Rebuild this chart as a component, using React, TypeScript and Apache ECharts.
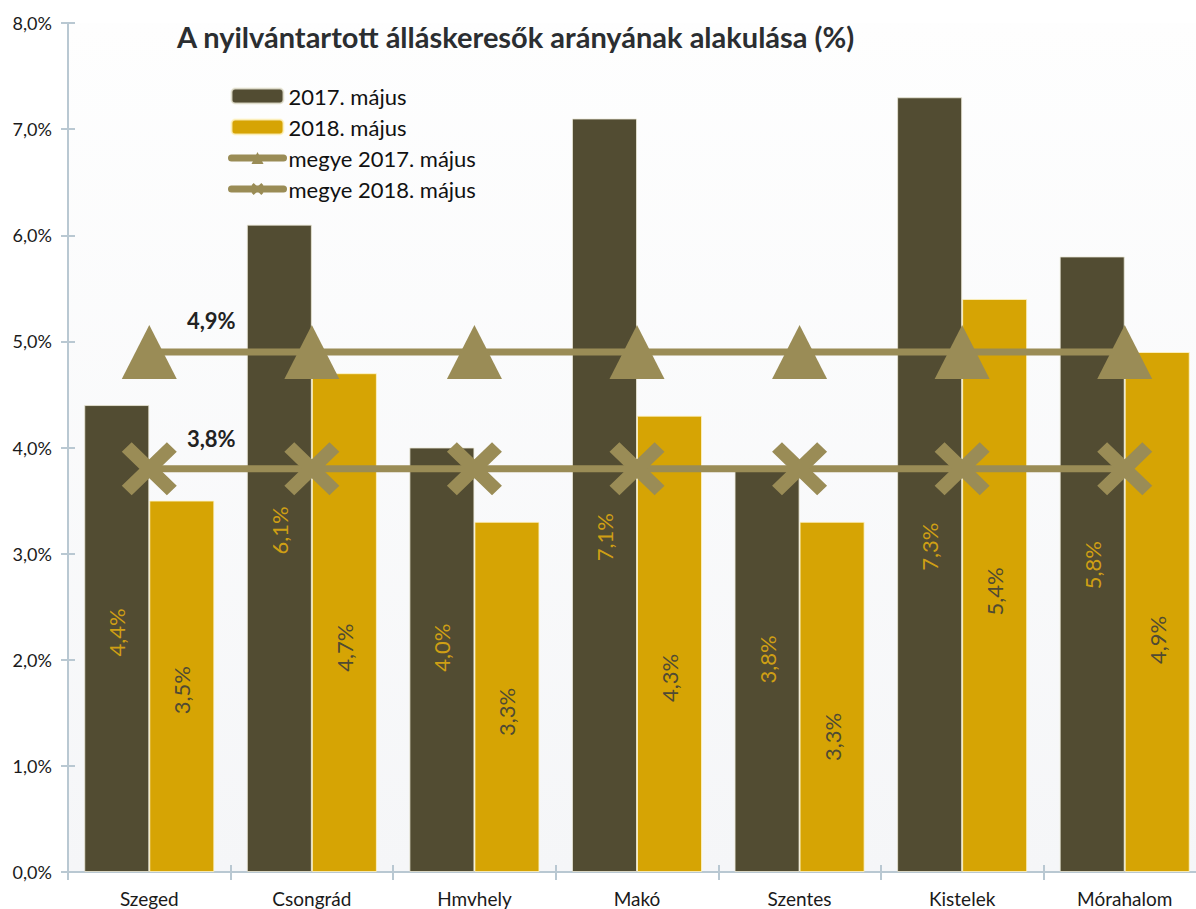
import React, { useEffect, useRef } from "react";
import * as echarts from "echarts";

const categories = ["Szeged", "Csongrád", "Hmvhely", "Makó", "Szentes", "Kistelek", "Mórahalom"];
const may2017 = [4.4, 6.1, 4.0, 7.1, 3.8, 7.3, 5.8];
const may2018 = [3.5, 4.7, 3.3, 4.3, 3.3, 5.4, 4.9];
const county2017 = [4.9, 4.9, 4.9, 4.9, 4.9, 4.9, 4.9];
const county2018 = [3.8, 3.8, 3.8, 3.8, 3.8, 3.8, 3.8];
const seriesNames = ["2017. május", "2018. május", "megye 2017. május", "megye 2018. május"];
const yTicks = { min: 0, max: 8, interval: 1 };

// label nudges (styling only, px downward along the bar)
const shift2017 = [-6, -18, -12, 42, -11, 62, 1];
const shift2018 = [4, 25, 15, 34, 40, 6, 28];

const FONT = "Lato";
const DARK = "#524c32";
const GOLD = "#d6a404";
const LINE = "#9a8c56";
const AXIS = "#b9c8d2";
const CROSS =
  "path://M0,18 L18,0 L50,32 L82,0 L100,18 L68,50 L100,82 L82,100 L50,68 L18,100 L0,82 L32,50 Z";

const pct = (v: number) => v.toFixed(1).replace(".", ",") + "%";

export default function App() {
  const ref = useRef<HTMLDivElement>(null);
  useEffect(() => {
    if (!ref.current) return;
    const chart = echarts.init(ref.current, null, { renderer: "svg" });
    const lineData = (arr: number[]) =>
      arr.map((v, i) =>
        i === 0
          ? {
              value: v,
              label: {
                show: true,
                position: "top",
                offset: [62, 12],
                formatter: (p: any) => pct(p.value),
                fontFamily: FONT,
                fontWeight: "bold",
                fontSize: 22,
                color: "#222222",
              },
            }
          : v
      );
    // rotated 90°: local -x points down on screen
    const barData = (arr: number[], shifts: number[]) =>
      arr.map((v, i) => ({ value: v, label: { offset: [-shifts[i], 0] } }));
    chart.setOption({
      animation: false,
      backgroundColor: "#ffffff",
      textStyle: { fontFamily: FONT },
      title: {
        text: "A nyilvántartott álláskeresők arányának alakulása (%)",
        left: 177,
        top: 22,
        padding: 0,
        textStyle: { fontFamily: FONT, fontWeight: "bold", fontSize: 29, color: "#2b2e31" },
      },
      legend: {
        orient: "vertical",
        left: 228,
        top: 85,
        padding: 0,
        itemWidth: 52,
        itemHeight: 15,
        itemGap: 9,
        data: seriesNames,
        lineStyle: { width: 7, cap: "round" },
        textStyle: { fontFamily: FONT, fontSize: 22, color: "#111111" },
      },
      grid: {
        left: 68,
        right: 0,
        top: 23,
        bottom: 37,
        show: true,
        borderWidth: 0,
        backgroundColor: new echarts.graphic.LinearGradient(0, 0, 0, 1, [
          { offset: 0, color: "#fefefe" },
          { offset: 1, color: "#f5f6f8" },
        ]),
      },
      xAxis: [
        {
          type: "category",
          data: categories,
          axisLine: { lineStyle: { color: AXIS, width: 2 } },
          axisTick: { show: true, length: 8, lineStyle: { color: AXIS, width: 2 } },
          axisLabel: { fontFamily: FONT, fontSize: 19, color: "#1a1a1a", margin: 17 },
        },
        {
          type: "category",
          data: categories,
          position: "bottom",
          axisLine: { show: false },
          axisTick: { show: true, inside: true, length: 7, lineStyle: { color: AXIS, width: 2 } },
          axisLabel: { show: false },
        },
      ],
      yAxis: [
        {
          type: "value",
          min: yTicks.min,
          max: yTicks.max,
          interval: yTicks.interval,
          axisLine: { show: true, lineStyle: { color: AXIS, width: 2 } },
          axisTick: { show: true, length: 7, lineStyle: { color: AXIS, width: 2 } },
          splitLine: { show: false },
          axisLabel: {
            fontFamily: FONT,
            fontSize: 18,
            color: "#1a1a1a",
            margin: 16,
            formatter: (v: number) => pct(v),
          },
        },
        {
          type: "value",
          position: "left",
          min: yTicks.min,
          max: yTicks.max,
          interval: yTicks.interval,
          axisLine: { show: false },
          axisTick: { show: true, inside: true, length: 7, lineStyle: { color: AXIS, width: 2 } },
          splitLine: { show: false },
          axisLabel: { show: false },
        },
      ],
      series: [
        {
          name: seriesNames[0],
          type: "bar",
          data: barData(may2017, shift2017),
          barGap: "0%",
          barCategoryGap: "20%",
          itemStyle: { color: DARK, borderColor: "rgba(235,232,215,0.8)", borderWidth: 1 },
          label: {
            show: true,
            position: "inside",
            rotate: 90,
            fontFamily: FONT,
            fontSize: 22,
            color: "#cf9f14",
            formatter: (p: any) => pct(p.value),
          },
        },
        {
          name: seriesNames[1],
          type: "bar",
          data: barData(may2018, shift2018),
          itemStyle: { color: GOLD, borderColor: "rgba(255,245,200,0.8)", borderWidth: 1 },
          label: {
            show: true,
            position: "inside",
            rotate: 90,
            fontFamily: FONT,
            fontSize: 22,
            color: "#4f4a33",
            formatter: (p: any) => pct(p.value),
          },
        },
        {
          name: seriesNames[2],
          type: "line",
          data: lineData(county2017),
          symbol: "triangle",
          symbolSize: [55, 54],
          lineStyle: { color: LINE, width: 7 },
          itemStyle: { color: LINE },
          label: { show: false },
          z: 5,
        },
        {
          name: seriesNames[3],
          type: "line",
          data: lineData(county2018),
          symbol: CROSS,
          symbolSize: [55, 53],
          lineStyle: { color: LINE, width: 7 },
          itemStyle: { color: LINE },
          label: { show: false },
          z: 5,
        },
      ],
    });
    return () => chart.dispose();
  }, []);
  return (
    <div
      style={{
        position: "absolute",
        left: 0,
        top: 0,
        width: 1196,
        height: 909,
        overflow: "hidden",
      }}
    >
      <div ref={ref} style={{ width: 1206, height: 909 }} />
    </div>
  );
}
